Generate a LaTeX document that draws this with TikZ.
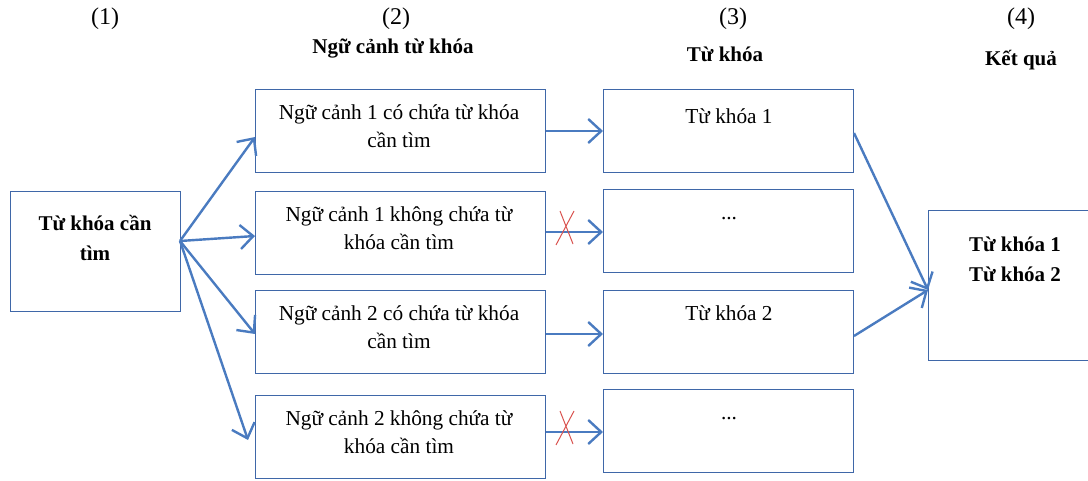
\documentclass[tikz,border=0pt]{standalone}
\usepackage{fontspec}
\setmainfont{Liberation Serif}
\usetikzlibrary{arrows.meta}
\definecolor{boxc}{HTML}{3F67A8}
\definecolor{arrc}{HTML}{4A7BC0}
\definecolor{xred}{HTML}{D9534F}
\begin{document}
\begin{tikzpicture}[x=1pt,y=-1pt,
  box/.style={draw=boxc,line width=1pt,anchor=north west,inner sep=0pt},
  txt/.style={font=\fontsize{21.3}{28}\selectfont,align=center},
  btxt/.style={font=\fontsize{21}{30}\selectfont\bfseries,align=center},
  hdr/.style={font=\fontsize{24}{26}\selectfont},
  arr/.style={draw=arrc,line width=2.4pt,-{Straight Barb[length=13pt,width=24pt]}},
  xmark/.style={draw=xred,line width=1pt}]
\useasboundingbox (0,0) rectangle (1088,481);
% boxes
\node[box,minimum width=170pt,minimum height=120pt] (src) at (10,191) {};
\node[btxt] (srct) at (95,238) {Từ khóa cần\\tìm};
\foreach \n/\y in {a/89,b/191,c/290,d/395}{
  \node[box,minimum width=290pt,minimum height=83pt] (c\n) at (255,\y) {};
}
\foreach \n/\y in {a/89,b/189,c/290,d/389}{
  \node[box,minimum width=250pt,minimum height=83pt] (k\n) at (603,\y) {};
}
\node[box,minimum width=162pt,minimum height=150pt] (res) at (928,210) {};
% texts
\node[txt] (cat) at (399,126) {Ngữ cảnh 1 có chứa từ khóa\\cần tìm};
\node[txt] (cbt) at (399,228) {Ngữ cảnh 1 không chứa từ\\khóa cần tìm};
\node[txt] (cct) at (399,327) {Ngữ cảnh 2 có chứa từ khóa\\cần tìm};
\node[txt] (cdt) at (399,432) {Ngữ cảnh 2 không chứa từ\\khóa cần tìm};
\node[txt] (kat) at (729,116) {Từ khóa 1};
\node[txt] (kbt) at (729,219) {...};
\node[txt] (kct) at (729,313) {Từ khóa 2};
\node[txt] (kdt) at (729,419) {...};
\node[btxt] (rest) at (1015,259) {Từ khóa 1\\Từ khóa 2};
% headers
\node[hdr] (h1) at (105,19) {(1)};
\node[hdr] (h2) at (396,19) {(2)};
\node[hdr] (h3) at (733,19) {(3)};
\node[hdr] (h4) at (1021,19) {(4)};
\node[btxt] (h2t) at (393,49) {Ngữ cảnh từ khóa};
\node[btxt] (h3t) at (725,54) {Từ khóa};
\node[btxt] (h4t) at (1021,60) {Kết quả};
% coordinates
\coordinate (s0) at (180,241);
\coordinate (ea) at (255,137);
\coordinate (eb) at (255,236);
\coordinate (ec) at (255,334);
\coordinate (ed) at (248,440);
% arrows
\draw[arr] (s0) -- (ea);
\draw[arr] (s0) -- (eb);
\draw[arr] (s0) -- (ec);
\draw[arr] (s0) -- (ed);
\draw[arr] (ca.east |- 0,131) -- (ka.west |- 0,131);
\draw[arr] (cb.east |- 0,232) -- (kb.west |- 0,232);
\draw[arr] (cc.east |- 0,334) -- (kc.west |- 0,334);
\draw[arr] (cd.east |- 0,432) -- (kd.west |- 0,432);
\coordinate (rin) at (928,290);
\draw[arr] (ka.east |- 0,133) -- (rin);
\draw[arr] (kc.east |- 0,336) -- (rin);
% red crosses
\draw[xmark] (560,211) -- (573,244) (574,211) -- (556,245);
\draw[xmark] (560,411) -- (573,444) (574,411) -- (556,445);
\end{tikzpicture}
\end{document}
